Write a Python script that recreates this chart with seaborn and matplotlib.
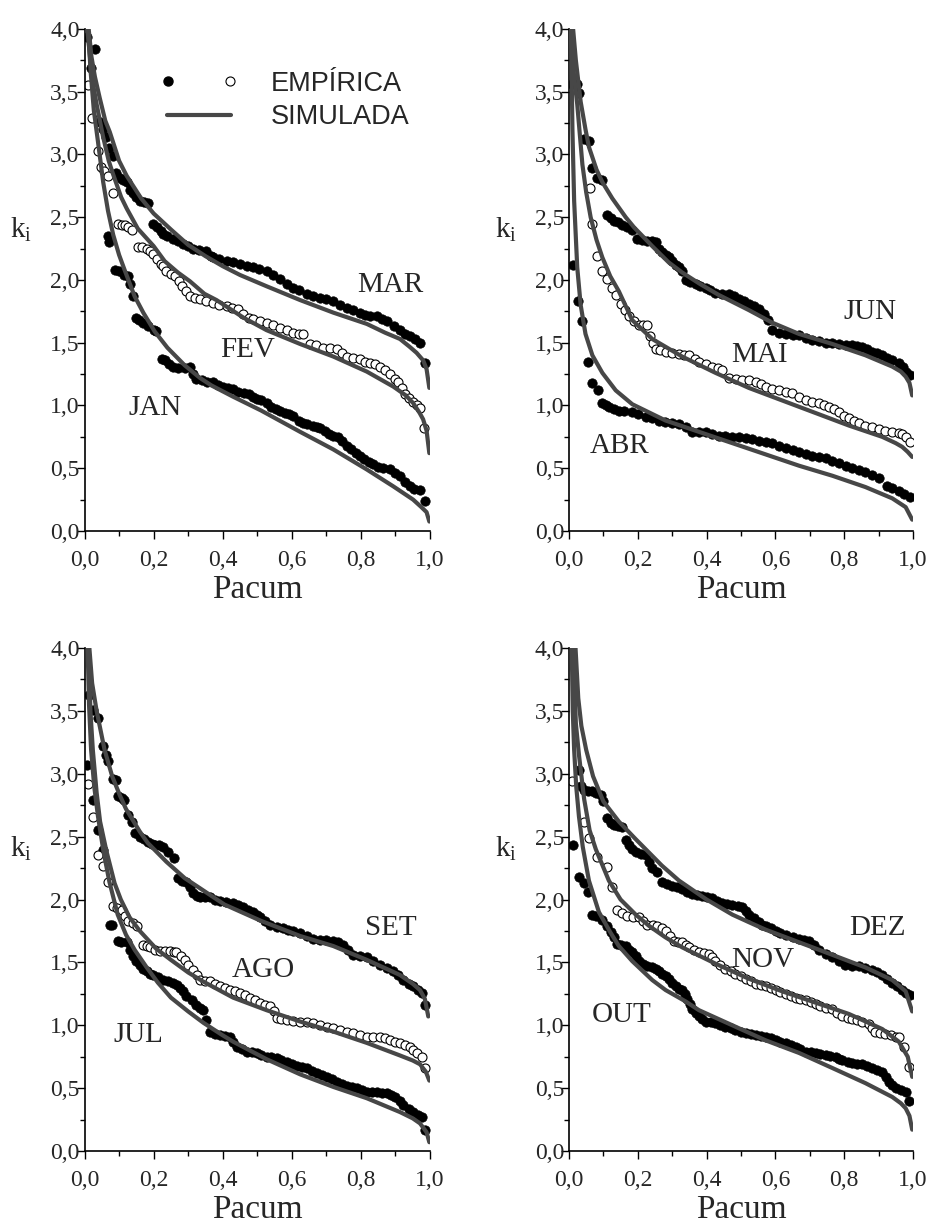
import matplotlib
matplotlib.use("Agg")
import matplotlib.pyplot as plt
import seaborn as sns
import pandas as pd
from matplotlib.lines import Line2D
from matplotlib.legend_handler import HandlerBase
from matplotlib.ticker import MultipleLocator, FuncFormatter

# ---------------- DATA ----------------
# Empirical points (Pacum, k_i) and simulated curves (Pacum, k_i)
JAN_EMP = [(0.008,3.94),(0.02,3.69),(0.068,2.35),(0.072,2.30),(0.087,2.08),(0.1,2.07),(0.115,2.04),(0.125,2.03),
           (0.132,1.97),(0.14,1.87),(0.15,1.70),(0.159,1.68),(0.17,1.66),(0.185,1.63),(0.2,1.60),(0.208,1.59),
           (0.223,1.37),(0.232,1.36),(0.245,1.33),(0.257,1.31),(0.27,1.30),(0.29,1.30),(0.305,1.31),(0.315,1.25),
           (0.324,1.21),(0.34,1.20),(0.355,1.19),(0.373,1.19),(0.386,1.16),(0.4,1.15),(0.415,1.14),(0.43,1.13),
           (0.445,1.11),(0.463,1.10),(0.475,1.09),(0.488,1.07),(0.5,1.05),(0.511,1.04),(0.527,1.02),(0.54,0.99),
           (0.553,0.97),(0.566,0.955),(0.58,0.94),(0.592,0.93),(0.604,0.915),(0.62,0.88),(0.633,0.86),(0.643,0.85),
           (0.66,0.84),(0.672,0.83),(0.681,0.82),(0.695,0.80),(0.708,0.77),(0.72,0.755),(0.735,0.745),(0.745,0.72),
           (0.759,0.675),(0.772,0.65),(0.785,0.62),(0.797,0.595),(0.81,0.57),(0.823,0.55),(0.836,0.53),(0.85,0.51),
           (0.865,0.50),(0.884,0.49),(0.898,0.46),(0.913,0.435),(0.928,0.39),(0.942,0.355),(0.955,0.335),
           (0.971,0.33),(0.985,0.235)]
FEV_EMP = [(0.011,3.55),(0.023,3.29),(0.038,3.03),(0.047,2.90),(0.056,2.87),(0.069,2.83),(0.083,2.69),(0.097,2.45),
           (0.107,2.44),(0.117,2.44),(0.127,2.42),(0.136,2.40),(0.155,2.26),(0.165,2.26),(0.18,2.25),(0.19,2.23),
           (0.199,2.21),(0.21,2.17),(0.22,2.13),(0.228,2.11),(0.237,2.07),(0.25,2.05),(0.262,2.03),(0.272,1.99),
           (0.281,1.95),(0.293,1.91),(0.305,1.87),(0.32,1.86),(0.334,1.85),(0.353,1.83),(0.373,1.82),(0.39,1.80),
           (0.411,1.79),(0.428,1.78),(0.445,1.77),(0.46,1.73),(0.475,1.70),(0.488,1.69),(0.507,1.67),(0.527,1.66),
           (0.546,1.64),(0.566,1.62),(0.585,1.60),(0.604,1.58),(0.62,1.57),(0.633,1.57),(0.652,1.49),(0.67,1.48),
           (0.691,1.46),(0.71,1.455),(0.73,1.45),(0.745,1.42),(0.759,1.39),(0.778,1.38),(0.797,1.37),(0.812,1.35),
           (0.826,1.34),(0.84,1.33),(0.855,1.31),(0.87,1.28),(0.884,1.25),(0.898,1.21),(0.908,1.19),(0.918,1.14),
           (0.927,1.09),(0.94,1.06),(0.951,1.03),(0.962,1.00),(0.971,0.98),(0.983,0.82)]
MAR_EMP = [(0.03,3.84),(0.044,3.26),(0.053,3.20),(0.062,3.14),(0.072,3.05),(0.083,2.99),(0.092,2.85),(0.102,2.81),
           (0.112,2.80),(0.122,2.78),(0.132,2.72),(0.141,2.69),(0.15,2.66),(0.16,2.63),(0.172,2.62),(0.184,2.61),
           (0.199,2.45),(0.21,2.42),(0.22,2.39),(0.228,2.37),(0.24,2.35),(0.257,2.33),(0.27,2.31),(0.286,2.29),
           (0.3,2.27),(0.315,2.25),(0.33,2.24),(0.353,2.23),(0.365,2.19),(0.373,2.18),(0.39,2.17),(0.411,2.15),
           (0.43,2.14),(0.45,2.13),(0.47,2.11),(0.488,2.10),(0.505,2.09),(0.527,2.07),(0.545,2.04),(0.566,2.01),
           (0.585,1.97),(0.604,1.94),(0.62,1.92),(0.643,1.89),(0.66,1.87),(0.681,1.86),(0.7,1.85),(0.72,1.83),
           (0.74,1.80),(0.759,1.78),(0.778,1.76),(0.797,1.74),(0.812,1.72),(0.826,1.71),(0.846,1.71),(0.86,1.69),
           (0.875,1.67),(0.895,1.63),(0.913,1.60),(0.928,1.57),(0.942,1.55),(0.957,1.53),(0.971,1.50),(0.985,1.34)]
ABR_EMP = [(0.012,2.12),(0.027,1.83),(0.039,1.67),(0.056,1.35),(0.068,1.18),(0.085,1.12),(0.097,1.02),(0.107,1.00),
           (0.116,0.99),(0.13,0.97),(0.145,0.96),(0.16,0.955),(0.184,0.95),(0.2,0.93),(0.223,0.91),(0.24,0.90),
           (0.262,0.88),(0.28,0.87),(0.3,0.86),(0.32,0.85),(0.339,0.83),(0.359,0.79),(0.378,0.79),(0.397,0.79),
           (0.415,0.77),(0.436,0.76),(0.455,0.755),(0.475,0.75),(0.495,0.745),(0.514,0.74),(0.533,0.73),(0.552,0.72),
           (0.572,0.71),(0.591,0.70),(0.61,0.68),(0.63,0.66),(0.65,0.645),(0.669,0.63),(0.688,0.615),(0.707,0.60),
           (0.727,0.59),(0.746,0.58),(0.765,0.56),(0.785,0.54),(0.805,0.52),(0.824,0.50),(0.843,0.485),(0.862,0.47),
           (0.882,0.445),(0.901,0.42),(0.925,0.36),(0.94,0.34),(0.959,0.32),(0.975,0.295),(0.993,0.27)]
MAI_EMP = [(0.06,2.73),(0.068,2.45),(0.082,2.19),(0.097,2.07),(0.11,2.01),(0.126,1.94),(0.137,1.88),(0.15,1.81),
           (0.162,1.76),(0.174,1.71),(0.19,1.67),(0.203,1.64),(0.215,1.64),(0.228,1.64),(0.237,1.55),(0.245,1.50),
           (0.252,1.45),(0.265,1.44),(0.281,1.43),(0.3,1.42),(0.32,1.41),(0.335,1.405),(0.349,1.40),(0.365,1.37),
           (0.378,1.35),(0.398,1.33),(0.417,1.31),(0.432,1.30),(0.446,1.28),(0.465,1.22),(0.485,1.21),(0.504,1.20),
           (0.523,1.20),(0.543,1.19),(0.558,1.17),(0.572,1.15),(0.59,1.13),(0.61,1.12),(0.63,1.11),(0.649,1.10),
           (0.668,1.07),(0.688,1.04),(0.707,1.03),(0.727,1.02),(0.742,1.00),(0.756,0.99),(0.77,0.97),(0.785,0.95),
           (0.8,0.92),(0.814,0.90),(0.83,0.88),(0.843,0.86),(0.862,0.84),(0.882,0.83),(0.9,0.815),(0.92,0.80),
           (0.94,0.79),(0.959,0.78),(0.969,0.77),(0.979,0.75),(0.993,0.71)]
JUN_EMP = [(0.01,3.56),(0.024,3.56),(0.029,3.49),(0.044,3.12),(0.058,3.11),(0.068,2.89),(0.082,2.81),(0.097,2.80),
           (0.111,2.52),(0.121,2.49),(0.131,2.47),(0.143,2.46),(0.155,2.44),(0.17,2.42),(0.184,2.40),(0.199,2.33),
           (0.213,2.32),(0.228,2.31),(0.24,2.31),(0.252,2.30),(0.262,2.25),(0.271,2.22),(0.281,2.20),(0.291,2.18),
           (0.3,2.15),(0.31,2.12),(0.32,2.10),(0.329,2.07),(0.339,2.00),(0.353,1.98),(0.368,1.97),(0.382,1.95),
           (0.397,1.94),(0.41,1.92),(0.426,1.90),(0.445,1.89),(0.465,1.89),(0.48,1.87),(0.494,1.85),(0.508,1.83),
           (0.523,1.81),(0.538,1.79),(0.552,1.77),(0.567,1.73),(0.58,1.68),(0.591,1.60),(0.61,1.58),(0.63,1.57),
           (0.65,1.565),(0.669,1.56),(0.688,1.54),(0.707,1.52),(0.727,1.51),(0.746,1.50),(0.765,1.495),(0.785,1.49),
           (0.805,1.485),(0.824,1.48),(0.838,1.475),(0.853,1.47),(0.868,1.45),(0.882,1.43),(0.897,1.415),(0.911,1.40),
           (0.925,1.38),(0.94,1.36),(0.959,1.335),(0.97,1.31),(0.979,1.27),(0.993,1.24)]
JUL_EMP = [(0.008,3.07),(0.025,2.79),(0.04,2.55),(0.054,2.39),(0.073,1.80),(0.08,1.80),(0.097,1.67),(0.105,1.66),
           (0.122,1.66),(0.133,1.60),(0.141,1.55),(0.15,1.51),(0.16,1.48),(0.17,1.45),(0.18,1.43),(0.19,1.41),
           (0.199,1.40),(0.214,1.38),(0.228,1.36),(0.243,1.35),(0.257,1.34),(0.268,1.32),(0.276,1.30),(0.286,1.27),
           (0.295,1.23),(0.31,1.20),(0.324,1.16),(0.334,1.14),(0.344,1.12),(0.353,1.04),(0.363,0.95),(0.378,0.93),
           (0.392,0.92),(0.407,0.915),(0.421,0.91),(0.43,0.87),(0.44,0.83),(0.455,0.81),(0.469,0.79),(0.484,0.785),
           (0.498,0.78),(0.512,0.765),(0.527,0.75),(0.541,0.745),(0.556,0.74),(0.57,0.725),(0.585,0.71),(0.6,0.695),
           (0.614,0.68),(0.628,0.67),(0.643,0.66),(0.657,0.64),(0.672,0.62),(0.686,0.605),(0.701,0.59),(0.715,0.57),
           (0.73,0.55),(0.745,0.535),(0.759,0.52),(0.773,0.51),(0.788,0.50),(0.803,0.485),(0.817,0.47),(0.832,0.47),
           (0.846,0.47),(0.86,0.465),(0.875,0.46),(0.888,0.445),(0.899,0.43),(0.912,0.40),(0.923,0.365),(0.938,0.335),
           (0.952,0.31),(0.965,0.29),(0.976,0.27),(0.986,0.165)]
AGO_EMP = [(0.011,2.92),(0.025,2.66),(0.04,2.35),(0.054,2.27),(0.069,2.14),(0.083,1.95),(0.095,1.93),(0.107,1.92),
           (0.117,1.87),(0.126,1.83),(0.14,1.81),(0.151,1.79),(0.17,1.64),(0.18,1.63),(0.189,1.62),(0.204,1.60),
           (0.218,1.59),(0.232,1.59),(0.247,1.59),(0.258,1.585),(0.266,1.58),(0.278,1.55),(0.29,1.52),(0.3,1.48),
           (0.315,1.44),(0.325,1.40),(0.334,1.36),(0.348,1.355),(0.363,1.35),(0.378,1.33),(0.392,1.31),(0.407,1.295),
           (0.421,1.28),(0.435,1.27),(0.45,1.26),(0.465,1.24),(0.479,1.22),(0.494,1.20),(0.508,1.18),(0.522,1.165),
           (0.537,1.15),(0.547,1.11),(0.556,1.06),(0.57,1.05),(0.585,1.04),(0.604,1.035),(0.624,1.03),(0.643,1.025),
           (0.662,1.02),(0.681,1.00),(0.701,0.99),(0.72,0.975),(0.739,0.96),(0.759,0.95),(0.778,0.94),(0.797,0.925),
           (0.817,0.91),(0.836,0.91),(0.855,0.91),(0.87,0.895),(0.884,0.88),(0.898,0.87),(0.913,0.86),(0.928,0.845),
           (0.942,0.83),(0.952,0.80),(0.961,0.78),(0.976,0.75),(0.986,0.66)]
SET_EMP = [(0.014,3.63),(0.025,3.51),(0.04,3.44),(0.054,3.22),(0.062,3.15),(0.069,3.10),(0.083,2.96),(0.09,2.95),
           (0.097,2.82),(0.109,2.81),(0.114,2.79),(0.126,2.67),(0.136,2.62),(0.146,2.53),(0.16,2.50),(0.172,2.48),
           (0.184,2.46),(0.195,2.44),(0.204,2.43),(0.215,2.43),(0.228,2.42),(0.243,2.38),(0.258,2.33),(0.271,2.17),
           (0.283,2.15),(0.295,2.14),(0.305,2.10),(0.315,2.05),(0.325,2.03),(0.334,2.02),(0.348,2.02),(0.363,2.02),
           (0.378,2.00),(0.392,1.99),(0.41,1.98),(0.43,1.97),(0.445,1.955),(0.459,1.94),(0.474,1.92),(0.488,1.90),
           (0.498,1.88),(0.508,1.86),(0.522,1.83),(0.537,1.80),(0.556,1.78),(0.575,1.77),(0.59,1.76),(0.604,1.75),
           (0.623,1.73),(0.643,1.71),(0.66,1.69),(0.681,1.68),(0.7,1.675),(0.72,1.67),(0.735,1.66),(0.749,1.64),
           (0.763,1.60),(0.778,1.56),(0.797,1.55),(0.817,1.54),(0.836,1.51),(0.855,1.48),(0.875,1.455),(0.894,1.43),
           (0.908,1.40),(0.923,1.36),(0.938,1.33),(0.952,1.31),(0.965,1.28),(0.976,1.26),(0.986,1.16)]
OUT_EMP = [(0.012,2.43),(0.029,2.18),(0.044,2.13),(0.056,2.06),(0.068,1.88),(0.08,1.87),(0.097,1.84),(0.11,1.79),
           (0.121,1.74),(0.13,1.70),(0.14,1.65),(0.152,1.64),(0.165,1.63),(0.175,1.60),(0.184,1.58),(0.194,1.55),
           (0.204,1.51),(0.216,1.49),(0.228,1.47),(0.24,1.46),(0.252,1.45),(0.262,1.43),(0.271,1.41),(0.281,1.39),
           (0.291,1.37),(0.3,1.34),(0.31,1.31),(0.32,1.29),(0.329,1.28),(0.337,1.25),(0.344,1.21),(0.352,1.17),
           (0.359,1.13),(0.368,1.10),(0.378,1.07),(0.388,1.05),(0.397,1.03),(0.412,1.025),(0.426,1.02),(0.44,1.005),
           (0.455,0.99),(0.47,0.975),(0.484,0.96),(0.5,0.95),(0.514,0.94),(0.528,0.93),(0.543,0.92),(0.558,0.915),
           (0.572,0.91),(0.586,0.895),(0.601,0.88),(0.615,0.87),(0.63,0.86),(0.645,0.845),(0.659,0.83),(0.673,0.81),
           (0.688,0.79),(0.703,0.785),(0.717,0.78),(0.731,0.77),(0.746,0.76),(0.76,0.755),(0.775,0.75),(0.785,0.735),
           (0.795,0.72),(0.81,0.71),(0.824,0.70),(0.838,0.695),(0.853,0.69),(0.868,0.675),(0.882,0.66),(0.897,0.645),
           (0.911,0.63),(0.921,0.59),(0.93,0.55),(0.94,0.525),(0.95,0.50),(0.965,0.485),(0.979,0.47),(0.988,0.40)]
NOV_EMP = [(0.01,2.94),(0.044,2.62),(0.058,2.49),(0.082,2.34),(0.111,2.26),(0.126,2.10),(0.14,1.92),(0.155,1.89),
           (0.17,1.87),(0.185,1.86),(0.204,1.86),(0.215,1.83),(0.228,1.80),(0.243,1.795),(0.257,1.79),(0.27,1.77),
           (0.281,1.75),(0.293,1.71),(0.305,1.67),(0.318,1.665),(0.329,1.66),(0.339,1.64),(0.349,1.62),(0.363,1.60),
           (0.378,1.58),(0.392,1.575),(0.407,1.57),(0.417,1.54),(0.426,1.51),(0.44,1.48),(0.455,1.45),(0.47,1.43),
           (0.484,1.41),(0.5,1.39),(0.514,1.37),(0.528,1.35),(0.543,1.33),(0.558,1.32),(0.572,1.31),(0.586,1.295),
           (0.601,1.28),(0.615,1.265),(0.63,1.25),(0.645,1.235),(0.659,1.22),(0.673,1.21),(0.688,1.20),(0.703,1.185),
           (0.717,1.17),(0.731,1.155),(0.746,1.14),(0.766,1.13),(0.78,1.10),(0.795,1.07),(0.81,1.06),(0.824,1.05),
           (0.838,1.04),(0.853,1.03),(0.872,1.01),(0.882,0.98),(0.891,0.95),(0.905,0.94),(0.92,0.93),(0.935,0.92),
           (0.95,0.91),(0.96,0.91),(0.974,0.83),(0.988,0.67)]
DEZ_EMP = [(0.029,3.03),(0.036,2.90),(0.044,2.87),(0.056,2.86),(0.068,2.86),(0.08,2.85),(0.092,2.83),(0.1,2.78),
           (0.111,2.65),(0.121,2.61),(0.131,2.59),(0.143,2.585),(0.155,2.58),(0.165,2.47),(0.174,2.43),(0.184,2.40),
           (0.194,2.38),(0.208,2.36),(0.223,2.35),(0.232,2.30),(0.242,2.25),(0.256,2.22),(0.271,2.14),(0.286,2.12),
           (0.3,2.11),(0.315,2.10),(0.329,2.08),(0.344,2.06),(0.359,2.04),(0.373,2.035),(0.388,2.03),(0.402,2.02),
           (0.417,2.01),(0.431,1.99),(0.446,1.97),(0.46,1.965),(0.475,1.96),(0.49,1.95),(0.504,1.94),(0.514,1.91),
           (0.523,1.88),(0.538,1.85),(0.552,1.82),(0.562,1.80),(0.572,1.79),(0.586,1.77),(0.601,1.75),(0.615,1.735),
           (0.63,1.72),(0.65,1.705),(0.669,1.69),(0.684,1.68),(0.698,1.67),(0.712,1.64),(0.727,1.60),(0.746,1.57),
           (0.766,1.54),(0.785,1.51),(0.804,1.48),(0.824,1.475),(0.843,1.47),(0.862,1.455),(0.882,1.44),(0.897,1.42),
           (0.911,1.40),(0.925,1.37),(0.94,1.34),(0.955,1.31),(0.969,1.28),(0.981,1.26),(0.993,1.24)]

JAN_SIM = [(0.01,4.0),(0.018,3.65),(0.027,3.35),(0.039,3.10),(0.054,2.78),(0.068,2.55),(0.083,2.36),(0.1,2.20),
           (0.116,2.08),(0.145,1.87),(0.17,1.74),(0.203,1.59),(0.24,1.46),(0.29,1.32),(0.334,1.22),(0.367,1.16),
           (0.43,1.07),(0.511,0.96),(0.624,0.79),(0.72,0.65),(0.817,0.49),(0.894,0.355),(0.951,0.25),(0.975,0.19),
           (0.99,0.15),(0.998,0.075)]
FEV_SIM = [(0.008,4.0),(0.015,3.80),(0.022,3.60),(0.035,3.40),(0.053,3.15),(0.07,2.95),(0.083,2.84),(0.106,2.66),
           (0.122,2.57),(0.154,2.41),(0.2,2.27),(0.232,2.15),(0.27,2.06),(0.305,1.99),(0.347,1.89),(0.382,1.84),
           (0.46,1.70),(0.527,1.60),(0.624,1.49),(0.72,1.39),(0.817,1.27),(0.894,1.15),(0.93,1.08),(0.951,1.02),
           (0.97,0.94),(0.98,0.89),(0.99,0.80),(0.998,0.62)]
MAR_SIM = [(0.012,4.0),(0.02,3.78),(0.03,3.62),(0.044,3.45),(0.06,3.27),(0.073,3.18),(0.1,2.95),(0.122,2.83),
           (0.164,2.65),(0.2,2.53),(0.251,2.40),(0.3,2.28),(0.35,2.19),(0.4,2.11),(0.45,2.04),(0.527,1.95),
           (0.624,1.84),(0.72,1.74),(0.817,1.65),(0.87,1.58),(0.913,1.53),(0.94,1.47),(0.961,1.42),(0.98,1.36),
           (0.99,1.29),(0.998,1.14)]
ABR_SIM = [(0.006,4.0),(0.01,3.20),(0.015,2.63),(0.024,2.10),(0.034,1.80),(0.048,1.57),(0.068,1.40),(0.097,1.26),
           (0.136,1.12),(0.184,1.01),(0.281,0.88),(0.378,0.79),(0.475,0.70),(0.572,0.61),(0.669,0.52),(0.766,0.44),
           (0.862,0.35),(0.94,0.26),(0.979,0.19),(0.998,0.09)]
MAI_SIM = [(0.005,4.0),(0.012,3.70),(0.024,3.40),(0.039,2.92),(0.05,2.70),(0.063,2.50),(0.08,2.32),(0.097,2.18),
           (0.12,2.03),(0.145,1.91),(0.184,1.68),(0.242,1.53),(0.329,1.39),(0.426,1.26),(0.523,1.14),(0.62,1.04),
           (0.717,0.94),(0.814,0.84),(0.911,0.75),(0.95,0.70),(0.969,0.67),(0.985,0.63),(0.998,0.59)]
JUN_SIM = [(0.012,4.0),(0.02,3.75),(0.034,3.42),(0.048,3.20),(0.058,3.06),(0.08,2.88),(0.097,2.78),(0.126,2.65),
           (0.165,2.50),(0.189,2.42),(0.242,2.27),(0.29,2.14),(0.329,2.06),(0.38,1.97),(0.436,1.88),(0.523,1.76),
           (0.591,1.66),(0.669,1.57),(0.766,1.49),(0.862,1.40),(0.94,1.31),(0.965,1.27),(0.979,1.23),(0.99,1.18),
           (0.998,1.08)]
JUL_SIM = [(0.009,4.0),(0.013,3.55),(0.019,3.19),(0.028,2.90),(0.039,2.66),(0.055,2.38),(0.072,2.14),(0.096,1.88),
           (0.12,1.72),(0.145,1.60),(0.18,1.46),(0.212,1.34),(0.25,1.22),(0.3,1.11),(0.344,1.02),(0.4,0.92),
           (0.43,0.87),(0.527,0.73),(0.624,0.61),(0.72,0.51),(0.817,0.42),(0.913,0.31),(0.95,0.26),(0.971,0.22),
           (0.99,0.15),(0.998,0.07)]
AGO_SIM = [(0.012,4.0),(0.017,3.50),(0.024,3.19),(0.035,2.85),(0.045,2.62),(0.063,2.39),(0.087,2.13),(0.105,2.00),
           (0.13,1.86),(0.16,1.75),(0.207,1.61),(0.25,1.52),(0.3,1.42),(0.342,1.35),(0.43,1.22),(0.527,1.12),
           (0.624,1.03),(0.72,0.95),(0.817,0.86),(0.913,0.76),(0.95,0.72),(0.971,0.69),(0.988,0.63),(0.998,0.56)]
SET_SIM = [(0.014,4.0),(0.022,3.72),(0.035,3.50),(0.058,3.19),(0.08,2.98),(0.102,2.83),(0.12,2.72),(0.16,2.54),
           (0.183,2.45),(0.237,2.30),(0.29,2.17),(0.334,2.09),(0.405,1.96),(0.511,1.83),(0.624,1.71),(0.72,1.63),
           (0.817,1.52),(0.913,1.40),(0.95,1.33),(0.971,1.28),(0.985,1.21),(0.995,1.07)]
OUT_SIM = [(0.008,4.0),(0.011,3.50),(0.015,3.19),(0.021,2.90),(0.029,2.66),(0.04,2.42),(0.058,2.15),(0.087,1.90),
           (0.12,1.74),(0.145,1.63),(0.184,1.51),(0.242,1.36),(0.281,1.28),(0.339,1.19),(0.378,1.12),(0.475,1.00),
           (0.572,0.88),(0.669,0.78),(0.766,0.66),(0.862,0.54),(0.94,0.43),(0.965,0.38),(0.979,0.34),(0.99,0.28),
           (0.998,0.17)]
NOV_SIM = [(0.012,4.0),(0.02,3.40),(0.029,3.15),(0.044,2.80),(0.06,2.55),(0.078,2.40),(0.116,2.15),(0.15,2.00),
           (0.194,1.88),(0.233,1.79),(0.28,1.70),(0.329,1.62),(0.426,1.49),(0.523,1.37),(0.62,1.27),(0.717,1.18),
           (0.814,1.09),(0.911,0.97),(0.959,0.87),(0.985,0.75),(0.998,0.59)]
DEZ_SIM = [(0.019,4.0),(0.027,3.60),(0.036,3.38),(0.05,3.19),(0.07,2.98),(0.1,2.78),(0.145,2.62),(0.194,2.48),
           (0.223,2.40),(0.27,2.27),(0.32,2.15),(0.4,2.00),(0.475,1.88),(0.523,1.82),(0.572,1.76),(0.669,1.66),
           (0.766,1.56),(0.862,1.46),(0.94,1.36),(0.979,1.27),(0.998,1.11)]

# month name, empirical, simulated, filled marker?, label x, label y
PANELS = [
    [("JAN", JAN_EMP, JAN_SIM, True, 0.204, 0.98), ("FEV", FEV_EMP, FEV_SIM, False, 0.473, 1.44),
     ("MAR", MAR_EMP, MAR_SIM, True, 0.884, 1.96)],
    [("ABR", ABR_EMP, ABR_SIM, True, 0.148, 0.68), ("MAI", MAI_EMP, MAI_SIM, False, 0.555, 1.40),
     ("JUN", JUN_EMP, JUN_SIM, True, 0.875, 1.745)],
    [("JUL", JUL_EMP, JUL_SIM, True, 0.155, 0.92), ("AGO", AGO_EMP, AGO_SIM, False, 0.517, 1.44),
     ("SET", SET_EMP, SET_SIM, True, 0.887, 1.77)],
    [("OUT", OUT_EMP, OUT_SIM, True, 0.154, 1.08), ("NOV", NOV_EMP, NOV_SIM, False, 0.564, 1.52),
     ("DEZ", DEZ_EMP, DEZ_SIM, True, 0.898, 1.77)],
]

X_LABEL = "Pacum"
Y_LABEL = "k$_\\mathregular{i}$"
LEGEND_LABELS = ["EMPÍRICA", "SIMULADA"]

# ---------------- STYLE ----------------
sns.set_style("ticks")
plt.rcParams["font.family"] = ["Liberation Serif", "DejaVu Serif"]
plt.rcParams["mathtext.fontset"] = "custom"
plt.rcParams["mathtext.rm"] = "Liberation Serif"
plt.rcParams["mathtext.it"] = "Liberation Serif:italic"

LINE_COLOR = "#474747"
LINE_W = 3.0

fig = plt.figure(figsize=(9.32, 12.24), dpi=100)
AX_POS = [[0.0907, 0.5662, 0.3707, 0.4101], [0.6105, 0.5662, 0.369, 0.4101],
          [0.0907, 0.0596, 0.3707, 0.411], [0.6105, 0.0596, 0.369, 0.411]]

fmt = FuncFormatter(lambda v, p: f"{v:.1f}".replace(".", ","))


class TwoMarkerHandler(HandlerBase):
    def create_artists(self, legend, orig_handle, xdescent, ydescent, width, height, fontsize, trans):
        y = 0.5 * height - ydescent
        a = Line2D([-xdescent + 0.02 * width], [y], marker="o", ms=6.5, mfc="black", mec="black",
                   ls="none", transform=trans)
        b = Line2D([-xdescent + 0.98 * width], [y], marker="o", ms=6.5, mfc="white", mec="black",
                   mew=0.8, ls="none", transform=trans)
        return [a, b]


for i, (pos, panel) in enumerate(zip(AX_POS, PANELS)):
    ax = fig.add_axes(pos)
    for name, emp, sim, filled, lx, ly in panel:
        edf = pd.DataFrame(emp, columns=["x", "y"])
        sdf = pd.DataFrame(sim, columns=["x", "y"])
        if filled:
            sns.scatterplot(data=edf, x="x", y="y", ax=ax, s=46, color="black", edgecolor="black",
                            linewidth=0.5, zorder=2, legend=False)
        else:
            sns.scatterplot(data=edf, x="x", y="y", ax=ax, s=42, facecolor="white", edgecolor="black",
                            linewidth=0.8, zorder=2.5, legend=False)
        sns.lineplot(data=sdf, x="x", y="y", ax=ax, color=LINE_COLOR, lw=LINE_W, sort=False,
                     estimator=None, zorder=4, legend=False)
        ax.text(lx, ly, name, ha="center", va="center", fontsize=21, zorder=5)

    ax.set_xlim(0, 1)
    ax.set_ylim(0, 4)
    ax.xaxis.set_major_locator(MultipleLocator(0.2))
    ax.xaxis.set_minor_locator(MultipleLocator(0.1))
    ax.yaxis.set_major_locator(MultipleLocator(0.5))
    ax.yaxis.set_minor_locator(MultipleLocator(0.25))
    ax.xaxis.set_major_formatter(fmt)
    ax.yaxis.set_major_formatter(fmt)
    ax.tick_params(which="major", direction="out", length=6, width=1.0, labelsize=17, color="black")
    ax.tick_params(which="minor", direction="out", length=3.5, width=1.0, color="black")
    ax.tick_params(axis="y", which="major", pad=-2.5)
    ax.tick_params(axis="x", which="major", pad=8)
    for s in ["top", "right"]:
        ax.spines[s].set_visible(False)
    for s in ["left", "bottom"]:
        ax.spines[s].set_linewidth(1.2)
        ax.spines[s].set_color("black")
    ax.set_xlabel(X_LABEL, fontsize=24, labelpad=2)
    ax.set_ylabel(Y_LABEL, fontsize=21, rotation=0, ha="center", va="center")
    ax.yaxis.set_label_coords(-0.183, 0.6)

    if i == 0:
        pair = Line2D([], [])
        sim_handle = Line2D([], [], color=LINE_COLOR, lw=LINE_W)
        ax.legend([pair, sim_handle], LEGEND_LABELS, handler_map={pair: TwoMarkerHandler()},
                  loc="upper left", bbox_to_anchor=(0.239, 0.917), frameon=False,
                  prop={"family": "Liberation Sans", "size": 19.5}, handlelength=2.37,
                  handletextpad=1.44, labelspacing=0.27, borderpad=0, borderaxespad=0)

fig.savefig("out.png", dpi=100)
